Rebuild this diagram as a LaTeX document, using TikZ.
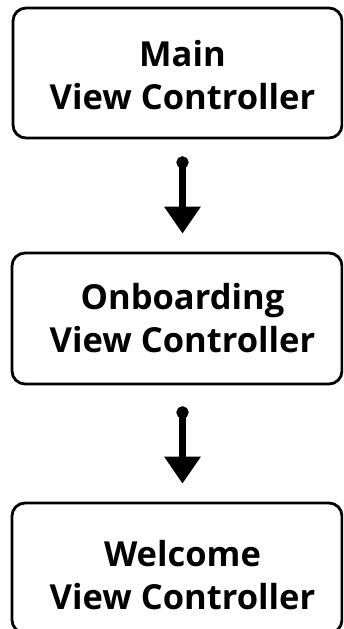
\documentclass[tikz,border=0pt]{standalone}
\usepackage{fontspec}
\setmainfont{Open Sans}
\usetikzlibrary{arrows.meta,calc}
\begin{document}
\begin{tikzpicture}[x=1pt,y=-1pt,
  vcbox/.style={draw=black,line width=2.8pt,rounded corners=13pt},
  vclabel/.style={align=center,font=\fontsize{34.5}{43}\selectfont\bfseries,inner sep=0pt},
  flow/.style={line width=6.5pt,{Circle[length=12pt,width=12pt]}-{Triangle[length=27pt,width=35pt]}}]
\useasboundingbox[fill=white] (0,0) rectangle (343,629);
\clip (0,0) rectangle (343,629);
\node[vcbox,minimum width=329pt,minimum height=130pt] (b1) at (177.5,73) {};
\node[vcbox,minimum width=330pt,minimum height=131pt] (b2) at (177,318.5) {};
\node[vcbox,minimum width=330pt,minimum height=130pt] (b3) at (177,568) {};
\node[vclabel] (t1) at (182.5,75) {Main\\View Controller};
\node[vclabel] (t2) at (182.5,318) {Onboarding\\View Controller};
\node[vclabel] (t3) at (182.5,575) {Welcome\\View Controller};
\draw[flow,shorten <=17pt,shorten >=18pt] (b1.south -| t1.center) -- (b2.north -| t2.center);
\draw[flow,shorten <=21pt,shorten >=18pt] (b2.south -| t2.center) -- (b3.north -| t3.center);
\end{tikzpicture}
\end{document}
